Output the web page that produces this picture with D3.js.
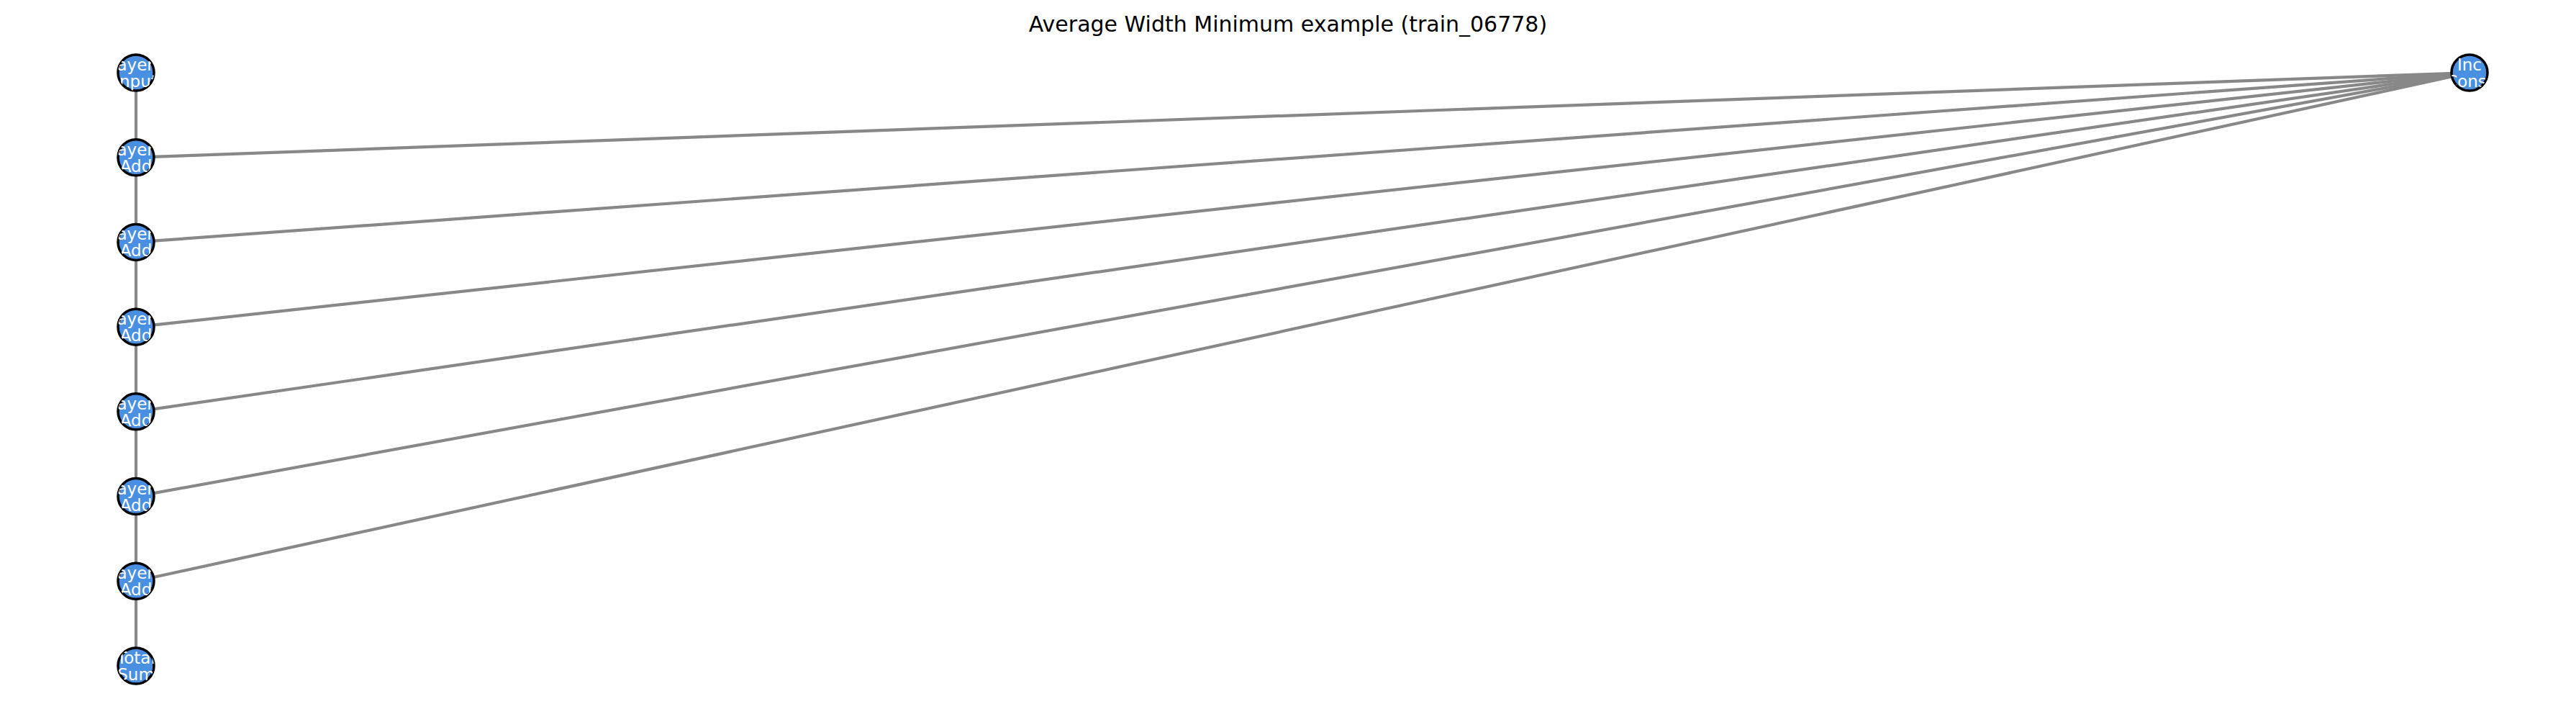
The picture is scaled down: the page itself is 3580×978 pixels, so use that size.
<!DOCTYPE html>
<html>
<head>
<script src="https://cdn.jsdelivr.net/npm/d3@7"></script>
<style>
body { margin: 0; background: #fff; }
</style>
</head>
<body>
<svg id="chart" width="3580" height="978"></svg>
<script>
// node names and layout slots (column, row)
var nodeNames = ['Layer1\nInput', 'Layer2\nAdd', 'Layer3\nAdd', 'Layer4\nAdd', 'Layer5\nAdd',
                 'Layer6\nAdd', 'Layer7\nAdd', 'Total\nSum', 'Inc\nConst'];
var nodeCol = [0, 0, 0, 0, 0, 0, 0, 0, 1];
var nodeRow = [0, 1, 2, 3, 4, 5, 6, 7, 0];
var edgeList = [[0,1],[1,2],[2,3],[3,4],[4,5],[5,6],[6,7],
                [8,1],[8,2],[8,3],[8,4],[8,5],[8,6]];

var svg = d3.select('#chart');
var x = d3.scaleLinear().domain([0, 1]).range([189, 3432]);
var y = d3.scaleLinear().domain([0, 7]).range([101, 925]);

svg.append('text')
  .attr('x', 1790).attr('y', 44)
  .attr('text-anchor', 'middle')
  .style('font-family', 'DejaVu Sans').style('font-size', '30px')
  .text('Average Width Minimum example (train_06778)');

svg.selectAll('line.edge').data(edgeList).enter().append('line')
  .attr('x1', function(d) { return x(nodeCol[d[0]]); })
  .attr('y1', function(d) { return y(nodeRow[d[0]]); })
  .attr('x2', function(d) { return x(nodeCol[d[1]]); })
  .attr('y2', function(d) { return y(nodeRow[d[1]]); })
  .attr('stroke', '#888').attr('stroke-width', 4.2);

var clip = svg.append('defs');
var g = svg.selectAll('g.node').data(nodeNames).enter().append('g')
  .attr('transform', function(d, i) { return 'translate(' + x(nodeCol[i]) + ',' + y(nodeRow[i]) + ')'; });

clip.selectAll('clipPath').data(nodeNames).enter().append('clipPath')
  .attr('id', function(d, i) { return 'c' + i; })
  .append('circle').attr('r', 25);

g.append('circle').attr('r', 25)
  .attr('fill', '#4a90e2').attr('stroke', '#000').attr('stroke-width', 3.5);

g.append('text')
  .attr('clip-path', function(d, i) { return 'url(#c' + i + ')'; })
  .attr('text-anchor', 'middle')
  .style('font-family', 'DejaVu Sans').style('font-size', '23px')
  .attr('fill', '#fff')
  .selectAll('tspan').data(function(d) { return d.split('\n'); }).enter().append('tspan')
  .attr('x', 0)
  .attr('y', function(d, i) { return i === 0 ? -3 : 20; })
  .text(function(d) { return d; });
</script>
</body>
</html>
